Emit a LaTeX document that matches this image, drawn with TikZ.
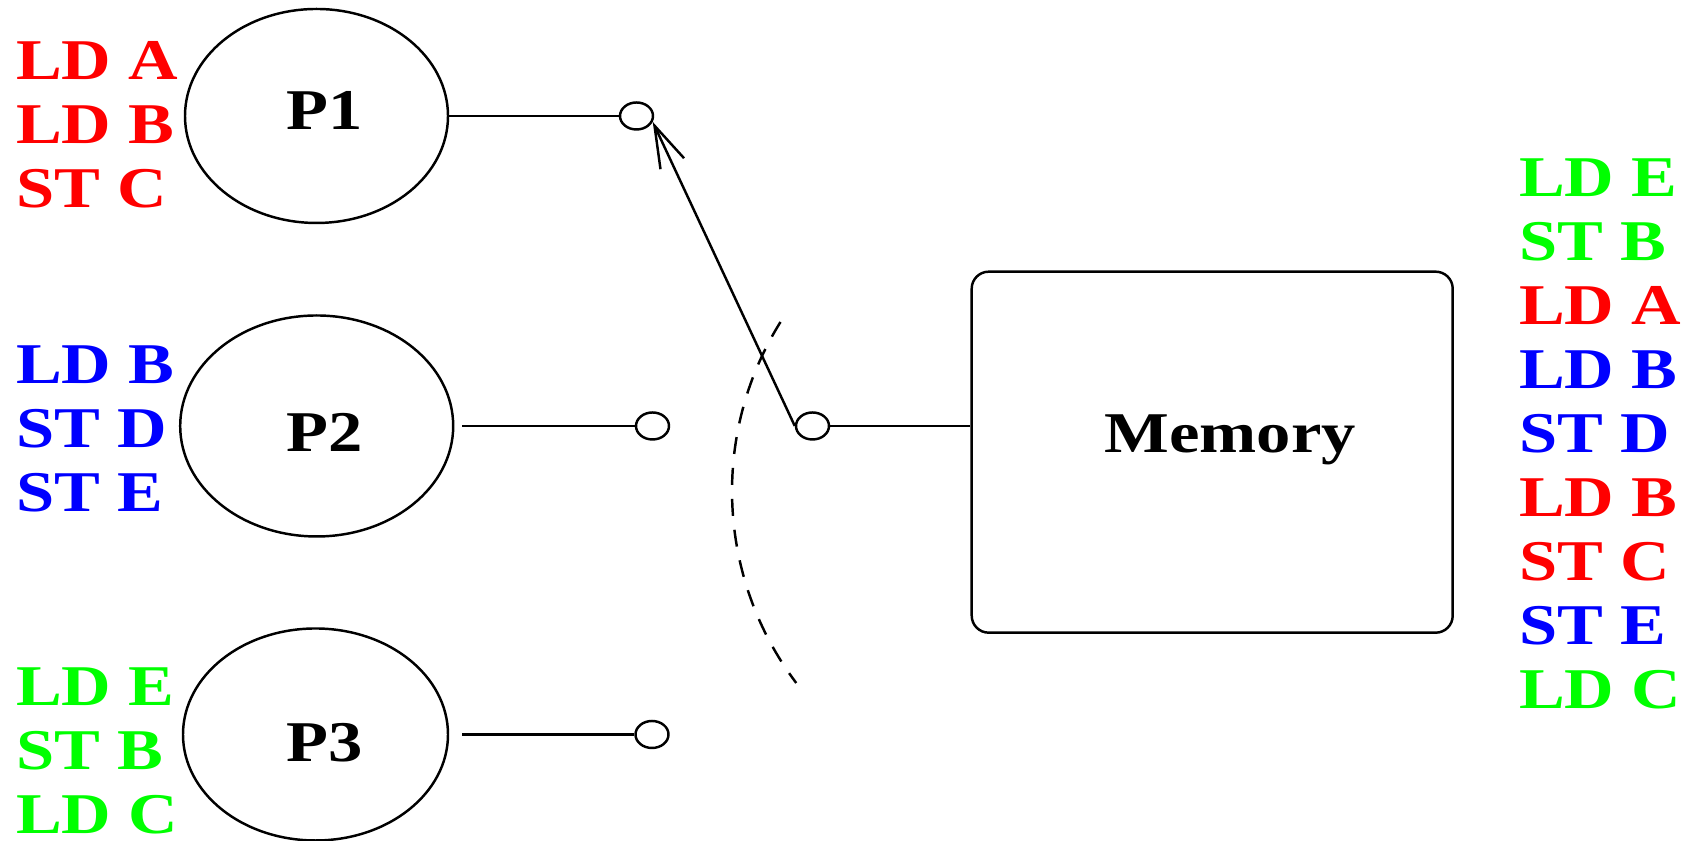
\documentclass[tikz,border=0pt]{standalone}
\usepackage{fontspec}
\setmainfont{Liberation Serif}[BoldFont={Liberation Serif Bold}, FakeStretch=1.19]
\usetikzlibrary{shapes.geometric, arrows.meta}

\begin{document}
\begin{tikzpicture}[
    >={Straight Barb[length=0.42cm,width=0.26cm]},
    line width=0.7pt,
    font=\fontsize{16.4}{18.2}\selectfont\bfseries,
    proc/.style={draw, ellipse, minimum width=2.63cm, minimum height=2.14cm, inner sep=0pt},
    port/.style={draw, ellipse, minimum width=0.33cm, minimum height=0.27cm, inner sep=0pt},
    block/.style={draw, rectangle, rounded corners=0.17cm, minimum width=4.81cm, minimum height=3.61cm},
    prog/.style={anchor=north west, align=left, inner sep=0pt},
    tag/.style={anchor=base, inner sep=0pt}
]
    \useasboundingbox (0,0) rectangle (16.88,8.41);

    % Processors
    \node[proc] (p1) at (3.165,7.25) {};
    \node[proc, minimum width=2.73cm, minimum height=2.21cm] (p2) at (3.167,4.15) {};
    \node[proc, minimum width=2.65cm, minimum height=2.12cm] (p3) at (3.155,1.065) {};
    \node[tag] (p1tag) at (3.245,7.11) {P1};
    \node[tag] (p2tag) at (3.245,3.893) {P2};
    \node[tag] (p3tag) at (3.245,0.793) {P3};

    % Program of each processor
    \node[prog, red] (prog1) at (0.15,8.01) {LD A\\LD B\\ST C};
    \node[prog, blue] (prog2) at (0.15,4.96) {LD B\\ST D\\ST E};
    \node[prog, green] (prog3) at (0.15,1.743) {LD E\\ST B\\LD C};

    % Switch contacts
    \node[port] (c1) at (6.365,7.25) {};
    \node[port] (c2) at (6.525,4.15) {};
    \node[port] (c3) at (6.52,1.065) {};
    \node[port] (sw) at (8.125,4.15) {};

    \draw (p1.east) -- (c1.west);
    \draw[shorten <=0.08cm] (p2.east) -- (c2.west);
    \draw[shorten <=0.13cm] (p3.east) -- (c3.west);

    % Switch arm and its sweep
    \draw[->] (sw.west) -- (c1.-20);
    \draw[dash pattern=on 0.17cm off 0.14cm] (7.805,5.19) arc[start angle=148, end angle=217, radius=3.19];

    % Memory
    \node[block] (mem) at (12.122,3.888) {};
    \node[tag] (memtag) at ([xshift=0.18cm]mem.center) {Memory};
    \draw (sw.east) -- (sw.east -| mem.west);

    % Order seen by memory
    \node[prog] (order) at (15.18,6.83) {\textcolor{green}{LD E}\\\textcolor{green}{ST B}\\\textcolor{red}{LD A}\\\textcolor{blue}{LD B}\\\textcolor{blue}{ST D}\\\textcolor{red}{LD B}\\\textcolor{red}{ST C}\\\textcolor{blue}{ST E}\\\textcolor{green}{LD C}};

\end{tikzpicture}
\end{document}
